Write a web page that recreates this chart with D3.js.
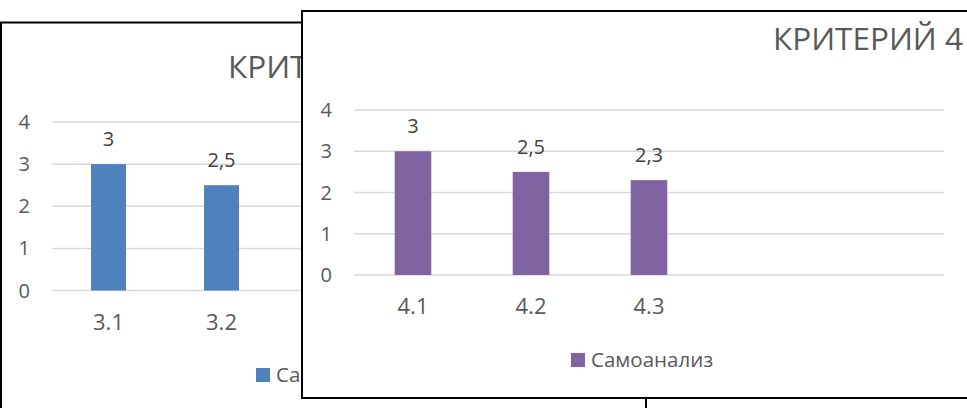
<!DOCTYPE html>
<html>
<head>
<meta charset="utf-8">
<script src="https://cdn.jsdelivr.net/npm/d3@7"></script>
<style>
  body { margin: 0; background: #fff; }
  svg { display: block; font-family: "Open Sans", sans-serif; }
</style>
</head>
<body>
<div id="chart"></div>
<script>
// back chart data
const categories3 = ["3.1", "3.2"];
const values3 = [3, 2.5];
const labels3 = ["3", "2,5"];
const title3 = "КРИТЕРИЙ 3";

// front chart data
const categories4 = ["4.1", "4.2", "4.3"];
const values4 = [3, 2.5, 2.3];
const labels4 = ["3", "2,5", "2,3"];
const title4 = "КРИТЕРИЙ 4";

const yTicks = [0, 1, 2, 3, 4];
const seriesName = "Самоанализ";

const svg = d3.select("#chart").append("svg")
  .attr("width", 967)
  .attr("height", 408);

function drawChart(opt) {
  const g = svg.append("g");

  // chart frame
  g.append("rect")
    .attr("x", opt.box[0])
    .attr("y", opt.box[1])
    .attr("width", opt.box[2])
    .attr("height", opt.box[3])
    .attr("fill", "#fff")
    .attr("stroke", "#000")
    .attr("stroke-width", 2);

  const x = d3.scaleBand()
    .domain(d3.range(5))
    .range([opt.plot.left, opt.plot.right]);

  const y = d3.scaleLinear()
    .domain([0, 4])
    .range([opt.plot.bottom, opt.plot.top]);

  // gridlines
  g.selectAll(".grid")
    .data(yTicks)
    .enter()
    .append("line")
    .attr("x1", opt.plot.left)
    .attr("x2", opt.plot.right)
    .attr("y1", (d) => y(d))
    .attr("y2", (d) => y(d))
    .attr("stroke", "#d9d9d9")
    .attr("stroke-width", 1.5);

  // y tick labels
  g.selectAll(".ytick")
    .data(yTicks)
    .enter()
    .append("text")
    .attr("x", opt.plot.left - 22)
    .attr("y", (d) => y(d))
    .attr("dy", "0.35em")
    .attr("text-anchor", "end")
    .attr("font-size", 20)
    .attr("fill", "#595959")
    .text((d) => d);

  const barW = x.bandwidth() * 0.31;

  g.selectAll(".bar")
    .data(opt.values)
    .enter()
    .append("rect")
    .attr("x", (d, i) => x(i) + (x.bandwidth() - barW) / 2)
    .attr("y", (d) => y(d))
    .attr("width", barW)
    .attr("height", (d) => y(0) - y(d))
    .attr("fill", opt.color);

  // data labels
  g.selectAll(".dlabel")
    .data(opt.labels)
    .enter()
    .append("text")
    .attr("x", (d, i) => x(i) + x.bandwidth() / 2)
    .attr("y", (d, i) => y(opt.values[i]) - 18)
    .attr("text-anchor", "middle")
    .attr("font-size", 20)
    .attr("fill", "#404040")
    .text((d) => d);

  // category labels
  g.selectAll(".xlabel")
    .data(opt.categories)
    .enter()
    .append("text")
    .attr("x", (d, i) => x(i) + x.bandwidth() / 2)
    .attr("y", y(0) + 39)
    .attr("text-anchor", "middle")
    .attr("font-size", 22)
    .attr("fill", "#595959")
    .text((d) => d);

  // title
  g.append("text")
    .attr("x", opt.titlePos[0])
    .attr("y", opt.titlePos[1])
    .attr("font-size", 31.5)
    .attr("fill", "#595959")
    .text(opt.title);

  // legend
  g.append("rect")
    .attr("x", opt.legendPos[0])
    .attr("y", opt.legendPos[1])
    .attr("width", 14)
    .attr("height", 14)
    .attr("fill", opt.color);

  g.append("text")
    .attr("x", opt.legendPos[0] + 20)
    .attr("y", opt.legendPos[1] + 7)
    .attr("dy", "0.35em")
    .attr("font-size", 20.5)
    .attr("fill", "#595959")
    .text(seriesName);
}

drawChart({
  box: [1, 22.5, 645, 400],
  plot: { left: 52, right: 617, top: 122, bottom: 290.5 },
  categories: categories3,
  values: values3,
  labels: labels3,
  title: title3,
  titlePos: [228, 78],
  legendPos: [256, 368],
  color: "#4f81bd",
});

drawChart({
  box: [302, 11, 680, 387],
  plot: { left: 354, right: 944, top: 110, bottom: 275 },
  categories: categories4,
  values: values4,
  labels: labels4,
  title: title4,
  titlePos: [773, 50],
  legendPos: [571, 353],
  color: "#8064a2",
});
</script>
</body>
</html>
